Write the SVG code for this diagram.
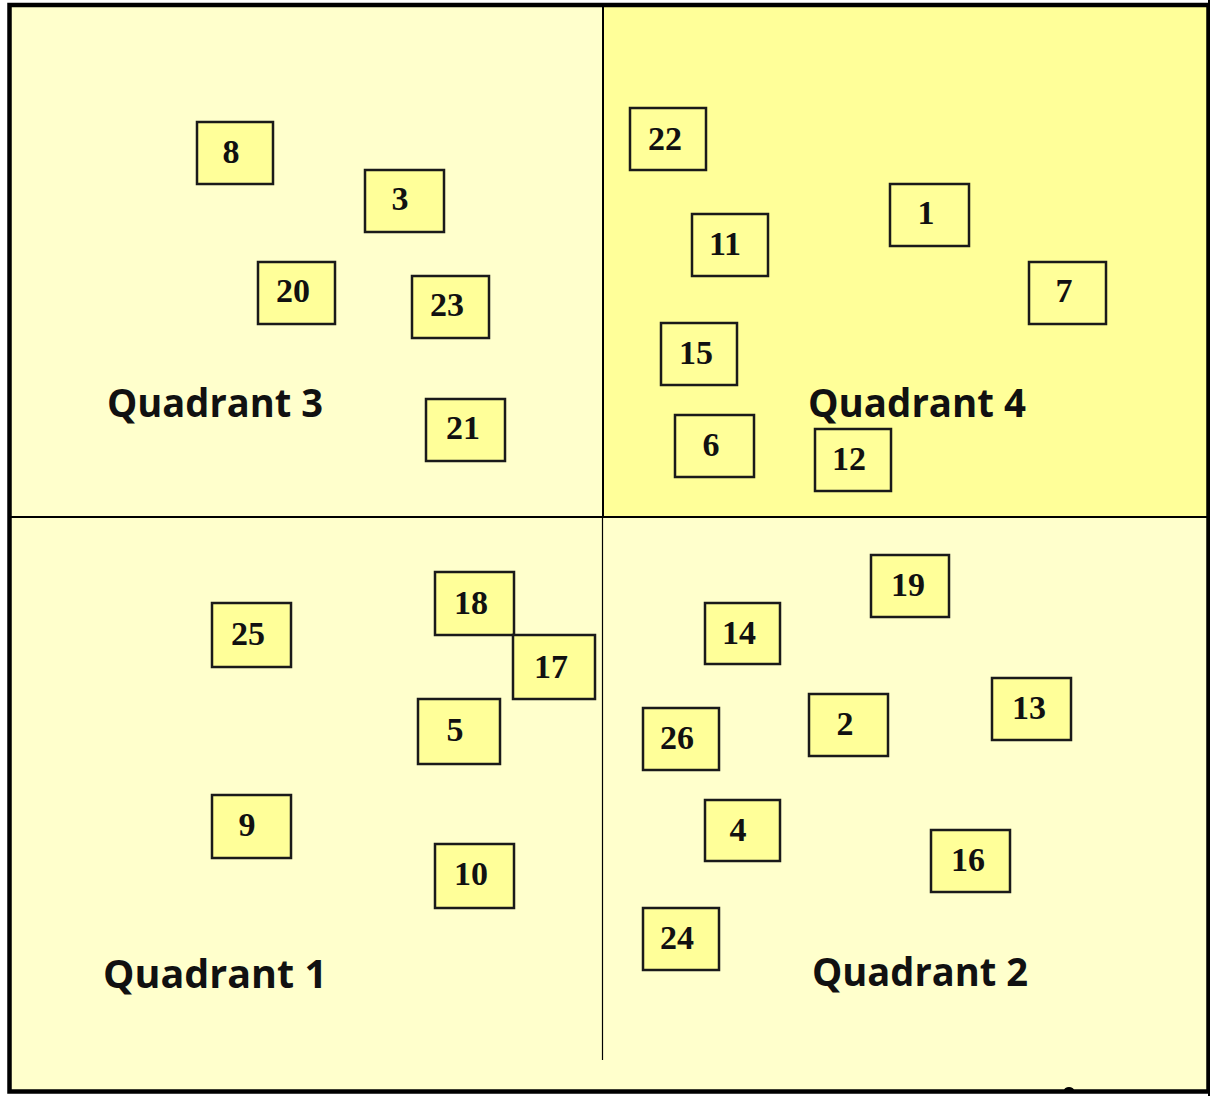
<svg xmlns="http://www.w3.org/2000/svg" width="1210" height="1096" viewBox="0 0 1210 1096">
<style>
.bx rect{fill:#FFFF99;stroke:#1a1a1a;stroke-width:2.5}
.bx text{font-family:"Liberation Serif","Times New Roman",serif;font-weight:bold;font-size:34px;fill:#111;text-anchor:middle}
.q{font-family:"Open Sans","Noto Sans","Liberation Sans",sans-serif;font-weight:bold;font-size:40px;fill:#111}
</style>
<rect x="0" y="0" width="1210" height="1096" fill="#FFFFFF"/>
<rect x="10" y="5" width="1198" height="1086" fill="#FFFFCC"/>
<rect x="603" y="5" width="1205" height="512" fill="#FFFF99"/>
<g id="connectors" stroke="#000" fill="none">
<line x1="10" y1="517" x2="1208" y2="517" stroke-width="2"/>
<line x1="603" y1="5" x2="603" y2="517" stroke-width="2"/>
<line x1="602.5" y1="517" x2="602.5" y2="1060" stroke-width="1.2"/>
</g>
<rect x="9.5" y="5" width="1199" height="1086.5" fill="none" stroke="#000" stroke-width="4.5"/>
<rect x="1208" y="0" width="2" height="1096" fill="#000"/>
<ellipse cx="1069" cy="1090" rx="5" ry="3" fill="#000"/>
<g id="quadrant3"><text class="q" x="107" y="417" textLength="216" lengthAdjust="spacingAndGlyphs">Quadrant 3</text></g>
<g id="quadrant4"><text class="q" x="808" y="417" textLength="218" lengthAdjust="spacingAndGlyphs">Quadrant 4</text></g>
<g id="quadrant1"><text class="q" x="103" y="988" textLength="224" lengthAdjust="spacingAndGlyphs">Quadrant 1</text></g>
<g id="quadrant2"><text class="q" x="812" y="986" textLength="216" lengthAdjust="spacingAndGlyphs">Quadrant 2</text></g>
<g id="n8" class="bx"><rect x="197" y="122" width="76" height="62"/><text x="231" y="163">8</text></g>
<g id="n3" class="bx"><rect x="365" y="170" width="79" height="62"/><text x="400" y="210">3</text></g>
<g id="n20" class="bx"><rect x="258" y="262" width="77" height="62"/><text x="293" y="302">20</text></g>
<g id="n23" class="bx"><rect x="412" y="276" width="77" height="62"/><text x="447" y="316">23</text></g>
<g id="n21" class="bx"><rect x="426" y="399" width="79" height="62"/><text x="463" y="439">21</text></g>
<g id="n22" class="bx"><rect x="630" y="108" width="76" height="62"/><text x="665" y="150">22</text></g>
<g id="n11" class="bx"><rect x="692" y="214" width="76" height="62"/><text x="725" y="255">11</text></g>
<g id="n1" class="bx"><rect x="890" y="184" width="79" height="62"/><text x="926" y="224">1</text></g>
<g id="n7" class="bx"><rect x="1029" y="262" width="77" height="62"/><text x="1064" y="302">7</text></g>
<g id="n15" class="bx"><rect x="661" y="323" width="76" height="62"/><text x="696" y="364">15</text></g>
<g id="n6" class="bx"><rect x="675" y="415" width="79" height="62"/><text x="711" y="456">6</text></g>
<g id="n12" class="bx"><rect x="815" y="429" width="76" height="62"/><text x="849" y="470">12</text></g>
<g id="n25" class="bx"><rect x="212" y="603" width="79" height="64"/><text x="248" y="645">25</text></g>
<g id="n18" class="bx"><rect x="435" y="572" width="79" height="63"/><text x="471" y="614">18</text></g>
<g id="n17" class="bx"><rect x="513" y="635" width="82" height="64"/><text x="551" y="678">17</text></g>
<g id="n5" class="bx"><rect x="418" y="699" width="82" height="65"/><text x="455" y="741">5</text></g>
<g id="n9" class="bx"><rect x="212" y="795" width="79" height="63"/><text x="247" y="836">9</text></g>
<g id="n10" class="bx"><rect x="435" y="844" width="79" height="64"/><text x="471" y="885">10</text></g>
<g id="n19" class="bx"><rect x="871" y="555" width="78" height="62"/><text x="908" y="596">19</text></g>
<g id="n14" class="bx"><rect x="705" y="603" width="75" height="61"/><text x="739" y="644">14</text></g>
<g id="n26" class="bx"><rect x="643" y="708" width="76" height="62"/><text x="677" y="749">26</text></g>
<g id="n2" class="bx"><rect x="809" y="694" width="79" height="62"/><text x="845" y="735">2</text></g>
<g id="n13" class="bx"><rect x="992" y="678" width="79" height="62"/><text x="1029" y="719">13</text></g>
<g id="n4" class="bx"><rect x="705" y="800" width="75" height="61"/><text x="738" y="841">4</text></g>
<g id="n16" class="bx"><rect x="931" y="830" width="79" height="62"/><text x="968" y="871">16</text></g>
<g id="n24" class="bx"><rect x="643" y="908" width="76" height="62"/><text x="677" y="949">24</text></g>
</svg>
